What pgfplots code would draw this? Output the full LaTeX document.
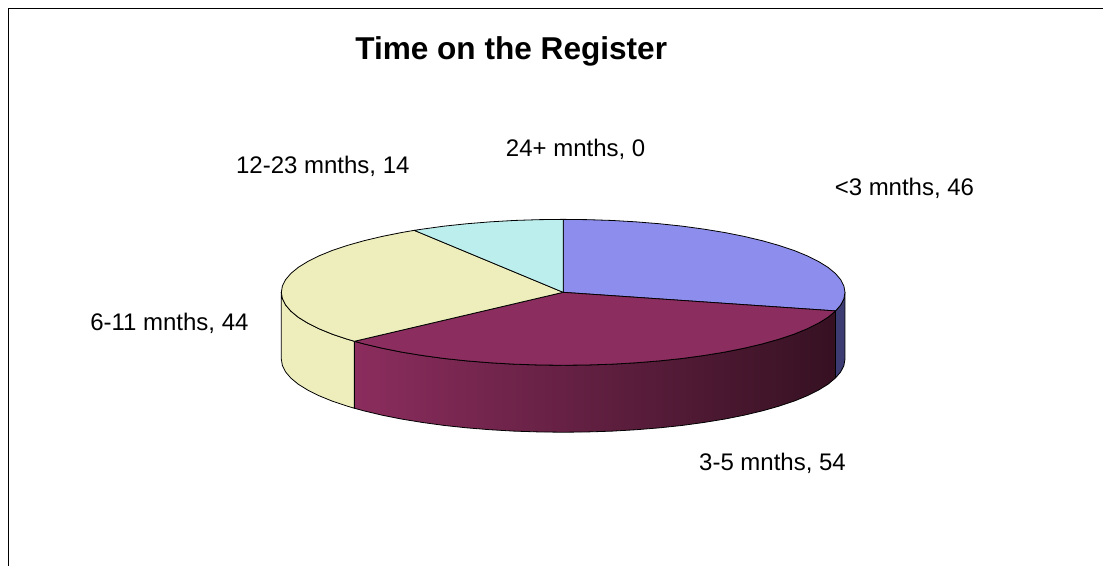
\documentclass[border=0pt]{standalone}
\usepackage{fontspec}
\setmainfont{Liberation Sans}
\usepackage{pgfplots}
\pgfplotsset{compat=1.18}
\definecolor{sblue}{HTML}{8D8DEE}
\definecolor{sblued}{HTML}{3C3C72}
\definecolor{scrim}{HTML}{8B2D5E}
\definecolor{scrimd}{HTML}{361122}
\definecolor{syel}{HTML}{EEEEBC}
\definecolor{scyan}{HTML}{BDEEEE}
\newcommand{\lab}[1]{\fontsize{24}{28}\selectfont #1}
\begin{document}
\begin{tikzpicture}
\begin{axis}[
  scale only axis, width=1104pt, height=566pt,
  xmin=0, xmax=1104, ymin=0, ymax=566, y dir=reverse,
  hide axis, clip=false,
  every axis plot/.append style={line width=0.8pt, line join=round, mark=none},
]
% page extent
\addplot[draw=none] coordinates {(0,0) (1104,566)};
% frame
\addplot[black, line width=1.4pt] coordinates {(8.5,566) (8.5,8.5) (1104,8.5)};
% wall: <3 mnths
\addplot[fill=sblued, draw=black] coordinates {
(845.5,292.5)(845.5,359.5)(844.4,365.9)(841.2,372.2)(836.1,378.1)(836.1,311.1)(841.2,305.2)(844.4,298.9)(845.5,292.5)} -- cycle;
% wall: 3-5 mnths
\addplot[draw=black, left color=scrim, middle color=scrim!55!scrimd, right color=scrimd] coordinates {
(836.1,311.1)(828.5,317.5)(819.1,323.3)(807.7,329.0)(794.5,334.4)(779.5,339.4)(762.9,344.1)(744.8,348.4)(725.3,352.3)(704.5,355.7)(682.7,358.7)(660.0,361.1)(636.5,363.0)(612.5,364.4)(588.1,365.2)(563.5,365.5)(538.9,365.2)(514.5,364.4)(490.5,363.0)(467.0,361.1)(444.3,358.7)(422.5,355.7)(401.7,352.3)(382.2,348.4)(364.1,344.1)(354.6,341.5)
(354.6,408.5)(364.1,411.1)(382.2,415.4)(401.7,419.3)(422.5,422.7)(444.3,425.7)(467.0,428.1)(490.5,430.0)(514.5,431.4)(538.9,432.2)(563.5,432.5)(588.1,432.2)(612.5,431.4)(636.5,430.0)(660.0,428.1)(682.7,425.7)(704.5,422.7)(725.3,419.3)(744.8,415.4)(762.9,411.1)(779.5,406.4)(794.5,401.4)(807.7,396.0)(819.1,390.3)(828.5,384.5)(836.1,378.1)(836.1,311.1)} -- cycle;
% wall: 6-11 mnths
\addplot[fill=syel, draw=black] coordinates {
(354.6,341.5)(347.5,339.4)(332.5,334.4)(319.3,329.0)(307.9,323.3)(298.5,317.5)(291.1,311.4)(285.8,305.2)(282.6,298.9)(281.5,292.5)
(281.5,359.5)(282.6,365.9)(285.8,372.2)(291.1,378.4)(298.5,384.5)(307.9,390.3)(319.3,396.0)(332.5,401.4)(347.5,406.4)(354.6,408.5)(354.6,341.5)} -- cycle;
% top: <3 mnths, 46
\addplot[fill=sblue, draw=black] coordinates {
(563.5,292.5)(563.5,219.5)(588.1,219.8)(612.5,220.6)(636.5,222.0)(660.0,223.9)(682.7,226.3)(704.5,229.3)(725.3,232.7)(744.8,236.6)(762.9,240.9)(779.5,245.6)(794.5,250.6)(807.7,256.0)(819.1,261.7)(828.5,267.5)(835.9,273.6)(841.2,279.8)(844.4,286.1)(845.5,292.5)(844.4,298.9)(841.2,305.2)(836.1,311.1)(563.5,292.5)} -- cycle;
% top: 3-5 mnths, 54
\addplot[fill=scrim, draw=black] coordinates {
(563.5,292.5)(836.1,311.1)(828.5,317.5)(819.1,323.3)(807.7,329.0)(794.5,334.4)(779.5,339.4)(762.9,344.1)(744.8,348.4)(725.3,352.3)(704.5,355.7)(682.7,358.7)(660.0,361.1)(636.5,363.0)(612.5,364.4)(588.1,365.2)(563.5,365.5)(538.9,365.2)(514.5,364.4)(490.5,363.0)(467.0,361.1)(444.3,358.7)(422.5,355.7)(401.7,352.3)(382.2,348.4)(364.1,344.1)(354.6,341.5)(563.5,292.5)} -- cycle;
% top: 6-11 mnths, 44
\addplot[fill=syel, draw=black] coordinates {
(563.5,292.5)(354.6,341.5)(347.5,339.4)(332.5,334.4)(319.3,329.0)(307.9,323.3)(298.5,317.5)(291.1,311.4)(285.8,305.2)(282.6,298.9)(281.5,292.5)(282.6,286.1)(285.8,279.8)(291.1,273.6)(298.5,267.5)(307.9,261.7)(319.3,256.0)(332.5,250.6)(347.5,245.6)(364.1,240.9)(382.2,236.6)(401.7,232.7)(414.5,230.5)(563.5,292.5)} -- cycle;
% top: 12-23 mnths, 14
\addplot[fill=scyan, draw=black] coordinates {
(563.5,292.5)(414.5,230.5)(422.5,229.3)(444.3,226.3)(467.0,223.9)(490.5,222.0)(514.5,220.6)(538.9,219.8)(563.5,219.5)(563.5,292.5)} -- cycle;
% texts
\node at (axis cs:511.5,51) {\fontsize{31.6}{36}\selectfont\bfseries Time on the Register};
\node at (axis cs:576,149.5) {\lab{24+ mnths, 0}};
\node at (axis cs:905,188.5) {\lab{<3 mnths, 46}};
\node at (axis cs:323,166.5) {\lab{12-23 mnths, 14}};
\node at (axis cs:169.5,324) {\lab{6-11 mnths, 44}};
\node at (axis cs:773,464) {\lab{3-5 mnths, 54}};
\end{axis}
\end{tikzpicture}
\end{document}
